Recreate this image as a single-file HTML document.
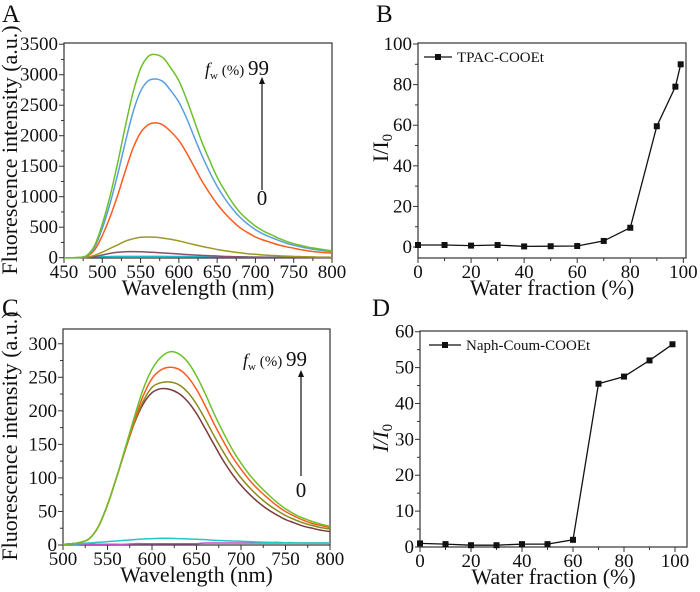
<!DOCTYPE html>
<html><head><meta charset="utf-8">
<style>
body{margin:0;background:#fff;}
svg{display:block;}
svg text{font-family:"Liberation Serif","DejaVu Serif",serif;}
</style></head>
<body>
<svg id="fig" width="700" height="592" viewBox="0 0 700 592" style="font-family:'Liberation Serif','DejaVu Serif',serif"></svg>
<script>
// ---- Panel A data ----
const aWl = [450,460,470,480,490,500,510,520,530,540,550,560,570,580,590,600,610,620,630,640,650,660,670,680,690,700,710,720,730,740,750,760,770,780,790,800];
const aGreen = [0,0,5,40,200,550,1000,1550,2150,2700,3100,3300,3330,3270,3100,2900,2600,2250,1900,1600,1320,1100,900,740,620,520,440,380,320,270,230,200,170,150,130,115];
const aBlue = [0,0,4,35,175,480,880,1360,1890,2380,2730,2900,2930,2880,2730,2550,2290,1980,1680,1410,1170,970,800,660,550,460,390,335,285,240,205,175,150,130,115,100];
const aOrange = [0,0,3,25,130,360,660,1020,1420,1790,2050,2180,2210,2170,2060,1920,1720,1490,1260,1060,880,730,600,490,410,340,290,250,210,180,155,130,110,95,85,75];
const aOlive = [0,0,2,10,40,90,150,210,270,310,335,340,335,320,300,275,245,215,185,160,135,115,95,80,65,55,45,38,32,26,22,18,15,12,10,8];
const aPurple = [0,0,1,5,20,45,70,88,98,100,98,92,85,77,68,60,52,45,38,32,27,22,18,15,12,10,8,6,5,4,3,3,2,2,2,1];
const aCyan = [0,0,2,8,14,18,20,21,22,22,22,22,21,21,20,20,19,18,17,16,15,14,13,12,11,10,10,9,9,8,8,7,7,6,6,6];
// ---- Panel B data ----
const bX = [0,10,20,30,40,50,60,70,80,90,97,99];
const bY = [1,1,0.7,1,0.3,0.4,0.5,3,9.5,59.5,79,90];
// ---- Panel C data ----
const cWl = [500,510,520,530,540,550,560,570,580,590,600,610,620,630,640,650,660,670,680,690,700,710,720,730,740,750,760,770,780,790,800];
const cGreen = [1,2,4,10,28,60,100,145,190,232,262,280,288,285,273,252,225,195,168,143,122,104,89,76,64,54,46,40,35,31,28];
const cOrange = [1,2,4,10,28,60,100,143,185,222,248,261,265,262,251,232,207,180,155,132,113,96,82,70,59,50,43,37,32,29,26];
const cOlive = [1,2,4,10,28,60,100,142,182,214,235,242,243,239,228,210,187,162,139,118,100,85,72,61,52,44,38,33,29,26,24];
const cBrown = [1,2,4,10,28,60,100,142,181,210,227,233,232,226,214,196,173,149,126,106,89,75,63,53,45,38,33,28,25,22,20];
const cCyan = [1,1,2,3,4,5,6,7,8,9,9.5,10,10,9.5,9,8.5,8,7,6.5,6,5.5,5,4.5,4,4,3.5,3.5,3,3,3,3];
const cMagenta = [0,0,1,1,1,1,1,1,2,2,2,2,2,2,2,2,3,3,3,3,3,3,3,3,3,3,3,3,3,3,3];
// ---- Panel D data ----
const dX = [0,10,20,30,40,50,60,70,80,90,99];
const dY = [1,0.8,0.5,0.5,0.8,0.8,2,45.5,47.5,52,56.5];
// tick labels
const aXTicks = [450,500,550,600,650,700,750,800];
const aYTicks = [0,500,1000,1500,2000,2500,3000,3500];
const bXTicks = [0,20,40,60,80,100];
const bYTicks = [0,20,40,60,80,100];
const cXTicks = [500,550,600,650,700,750,800];
const cYTicks = [0,50,100,150,200,250,300];
const dXTicks = [0,20,40,60,80,100];
const dYTicks = [0,10,20,30,40,50,60];

const NS="http://www.w3.org/2000/svg";
const FONT="'Liberation Serif','DejaVu Serif',serif";
const svg=document.getElementById('fig');
function el(tag,attrs,parent,text){const e=document.createElementNS(NS,tag);for(const k in attrs)e.setAttribute(k,attrs[k]);if(tag==='text')e.setAttribute('font-family',FONT);if(text!==undefined)e.textContent=text;(parent||svg).appendChild(e);return e;}

function smoothPath(pts){
  let d='M'+pts[0][0].toFixed(1)+' '+pts[0][1].toFixed(1);
  for(let i=0;i<pts.length-1;i++){
    const p0=pts[i-1]||pts[i],p1=pts[i],p2=pts[i+1],p3=pts[i+2]||p2;
    const c1=[p1[0]+(p2[0]-p0[0])/6,p1[1]+(p2[1]-p0[1])/6];
    const c2=[p2[0]-(p3[0]-p1[0])/6,p2[1]-(p3[1]-p1[1])/6];
    d+=` C${c1[0].toFixed(1)} ${c1[1].toFixed(1)} ${c2[0].toFixed(1)} ${c2[1].toFixed(1)} ${p2[0].toFixed(1)} ${p2[1].toFixed(1)}`;
  }
  return d;
}

function panel(cfg){
  const g=el('g',{});
  
  
  const {L,R,T,B,x0,x1,y0,y1}=cfg;
  const sx=v=>L+(v-x0)/(x1-x0)*(R-L);
  const sy=v=>B-(v-y0)/(y1-y0)*(B-T);
  cfg.sx=sx;cfg.sy=sy;
  const box=el('rect',{x:L,y:T,width:R-L,height:B-T,fill:'none',stroke:'#333','stroke-width':1.2},g);
  
  
  cfg.xt.forEach((v,i)=>{
    const x=sx(v);
    el('line',{x1:x,x2:x,y1:B,y2:B+5,stroke:'#333'},g);
    if(i<cfg.xt.length-1){const xm=sx(v+(cfg.xt[1]-cfg.xt[0])/2);el('line',{x1:xm,x2:xm,y1:B,y2:B+3,stroke:'#333'},g);}
    const t=el('text',{x:x,y:B+20,'font-size':19,'text-anchor':'middle',fill:'#111'},g,String(v));
    
    
  });
  cfg.yt.forEach((v,i)=>{
    const y=sy(v);
    el('line',{x1:L-5,x2:L,y1:y,y2:y,stroke:'#333'},g);
    if(i<cfg.yt.length-1){const ym=sy(v+(cfg.yt[1]-cfg.yt[0])/2);el('line',{x1:L-3,x2:L,y1:ym,y2:ym,stroke:'#333'},g);}
    const t=el('text',{x:L-6,y:y+6,'font-size':19,'text-anchor':'end',fill:'#111'},g,String(v));
    
    
  });
  const xt=el('text',{x:(L+R)/2,y:B+37,'font-size':22,'text-anchor':'middle',fill:'#111'},g,cfg.xlabel);
  
  
  const lt=el('text',{x:cfg.lx,y:cfg.ly,'font-size':25,fill:'#111'},g,cfg.letter);
  
  
  return g;
}
function spectrum(g,cfg,xs,ys,color,name){
  const pts=xs.map((v,i)=>[cfg.sx(v),cfg.sy(ys[i])]);
  const p=el('path',{d:smoothPath(pts),fill:'none',stroke:color,'stroke-width':1.5},g);
  
  
}
function scatter(g,cfg,xs,ys,name){
  const d=xs.map((v,i)=>(i?'L':'M')+cfg.sx(v).toFixed(1)+' '+cfg.sy(ys[i]).toFixed(1)).join(' ');
  const p=el('path',{d:d,fill:'none',stroke:'#111','stroke-width':1.3},g);
  
  
  xs.forEach((v,i)=>{
    const m=el('rect',{x:cfg.sx(v)-3,y:cfg.sy(ys[i])-3,width:6,height:6,fill:'#111'},g);
    
    
  });
}
function ylabel(g,x,y){
  const t=el('text',{x:0,y:0,'font-size':22,'text-anchor':'middle',fill:'#111',transform:`translate(${x},${y}) rotate(-90)`},g);
  
  
  return t;
}
function fwLabel(g,x,y,ax,ay0,ay1,zy){
  const t=el('text',{x:x,y:y,'font-size':18,fill:'#111'},g);
  
  
  el('tspan',{'font-style':'italic'},t,'f');
  el('tspan',{'font-size':11,dy:4},t,'w');
  el('tspan',{dy:-4,'font-size':15},t,' (%) ');
  el('tspan',{'font-size':21},t,'99');
  const a=el('line',{x1:ax,x2:ax,y1:ay0,y2:ay1+6,stroke:'#111','stroke-width':1.2},g);
  
  
  el('path',{d:`M${ax-3} ${ay1+7} L${ax} ${ay1} L${ax+3} ${ay1+7}Z`,fill:'#111'},g);
  const z=el('text',{x:ax,y:zy,'font-size':21,'text-anchor':'middle',fill:'#111'},g,'0');
  
  
}

// Panel A
const A={name:'panel-a',L:64,R:332,T:43,B:258,x0:450,x1:800,y0:-5,y1:3520,xt:aXTicks,yt:aYTicks,xlabel:'Wavelength (nm)',letter:'A',lx:2,ly:22};
const gA=panel(A);
spectrum(gA,A,aWl,aCyan,'#22b8c8','spectrum-a-cyan');
spectrum(gA,A,aWl,aPurple,'#8a4f6a','spectrum-a-purple');
spectrum(gA,A,aWl,aOlive,'#9a9a22','spectrum-a-olive');
spectrum(gA,A,aWl,aOrange,'#ff5a1e','spectrum-a-orange');
spectrum(gA,A,aWl,aBlue,'#5a9ee0','spectrum-a-blue');
spectrum(gA,A,aWl,aGreen,'#6cc02a','spectrum-a-green');
const yA=ylabel(gA,17,150);yA.textContent='Fluorescence intensity (a.u.)';
fwLabel(gA,205,75,262,190,77,205);

// Panel B
const Bp={name:'panel-b',L:418,R:686,T:43,B:258,x0:0,x1:101,y0:-5.4,y1:100.5,xt:bXTicks,yt:bYTicks,xlabel:'Water fraction (%)',letter:'B',lx:376,ly:22};
const gB=panel(Bp);
scatter(gB,Bp,bX,bY,'series-tpac-cooet');
const yB=ylabel(gB,388,148);
yB.textContent='I/I';
el('tspan',{'font-size':15,dy:4},yB,'0');
el('line',{x1:424,x2:452,y1:57,y2:57,stroke:'#111','stroke-width':1.3},gB);
el('rect',{x:435,y:54,width:6,height:6,fill:'#111'},gB);
const lgB=el('text',{x:457,y:62,'font-size':15,fill:'#111'},gB,'TPAC-COOEt');



// Panel C
const C={name:'panel-c',L:63,R:330,T:329,B:545,x0:500,x1:800,y0:0,y1:322,xt:cXTicks,yt:cYTicks,xlabel:'Wavelength (nm)',letter:'C',lx:2,ly:316};
const gC=panel(C);
spectrum(gC,C,cWl,cMagenta,'#c050c0','spectrum-c-magenta');
spectrum(gC,C,cWl,cCyan,'#22c8c8','spectrum-c-cyan');
spectrum(gC,C,cWl,cBrown,'#7a3a3a','spectrum-c-brown');
spectrum(gC,C,cWl,cOlive,'#8a8a1a','spectrum-c-olive');
spectrum(gC,C,cWl,cOrange,'#ff5a1e','spectrum-c-orange');
spectrum(gC,C,cWl,cGreen,'#6cc02a','spectrum-c-green');
const yC=ylabel(gC,17,436);yC.textContent='Fluorescence intensity (a.u.)';
fwLabel(gC,243,366,301,476,370,497);

// Panel D
const D={name:'panel-d',L:420,R:687,T:331,B:547,x0:0,x1:104.7,y0:0,y1:60.2,xt:dXTicks,yt:dYTicks,xlabel:'Water fraction (%)',letter:'D',lx:372,ly:316};
const gD=panel(D);
scatter(gD,D,dX,dY,'series-naph-coum-cooet');
const yD=ylabel(gD,388,438);
yD.setAttribute('font-style','italic');
yD.textContent='I/I';
el('tspan',{'font-size':15,dy:4,'font-style':'normal'},yD,'0');
el('line',{x1:429,x2:461,y1:345,y2:345,stroke:'#111','stroke-width':1.3},gD);
el('rect',{x:442,y:342,width:6,height:6,fill:'#111'},gD);
const lgD=el('text',{x:466,y:350,'font-size':15,fill:'#111'},gD,'Naph-Coum-COOEt');


</script>
</body></html>
